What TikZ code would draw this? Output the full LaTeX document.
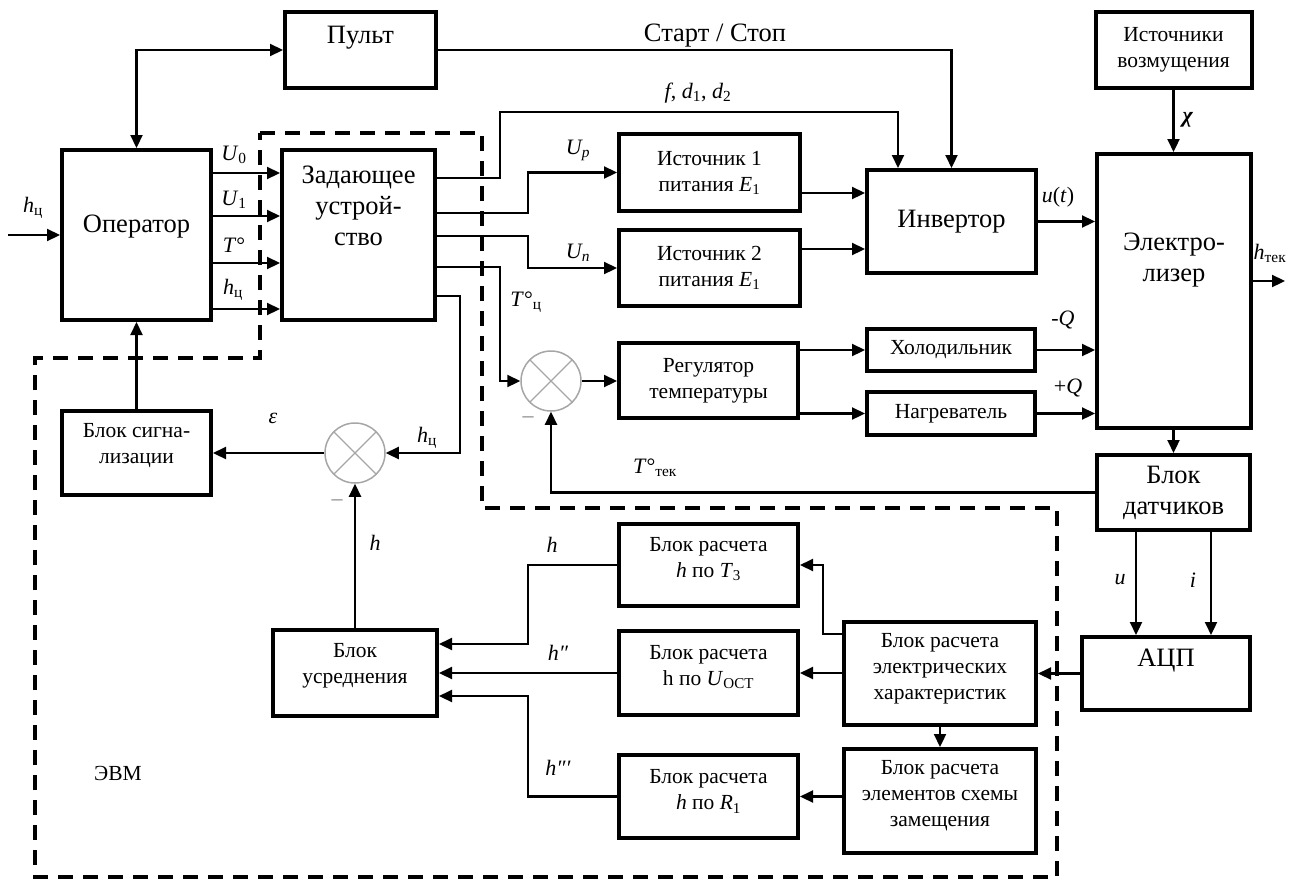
\documentclass[tikz,border=0pt]{standalone}
\usepackage{fontspec}
\setmainfont{Liberation Serif}
\usetikzlibrary{arrows.meta}
\newcommand{\iv}[2]{\textit{#1}\textsubscript{#2}}
\tikzset{
  blok/.style={draw, line width=4pt, inner sep=0pt},
  bigtxt/.style={font=\fontsize{26.5}{31}\selectfont, align=center},
  smltxt/.style={font=\fontsize{21.5}{26}\selectfont, align=center},
  lbl/.style={font=\fontsize{22}{26}\selectfont},
  arr/.style={line width=2.2pt, ->},
  evm/.style={line width=4pt, dash pattern=on 15pt off 10pt},
  summ/.style={circle, draw=gray!70, line width=1.5pt, minimum size=60pt, inner sep=0pt,
    path picture={\draw[gray!70, line width=1.2pt]
      (path picture bounding box.north west) -- (path picture bounding box.south east)
      (path picture bounding box.north east) -- (path picture bounding box.south west);}}
}

\begin{document}
\begin{tikzpicture}[x=1pt, y=-1pt, >={Triangle[length=13pt,width=12pt]}]
\useasboundingbox (0,0) rectangle (1289,881);

% area of the computer
\draw[evm] (260,133) -- (482,133) -- (482,508) -- (1057,508) -- (1057,877) -- (35,877) -- (35,358) -- (260,358) -- cycle;
\node[smltxt] (evm) at (118,773) {ЭВМ};

% blocks
\node[blok, minimum width=151pt, minimum height=76pt, label={[bigtxt, yshift=12pt]center:Пульт}] (pult) at (360.5,50) {};
\node[blok, minimum width=149pt, minimum height=170pt, label={[bigtxt, yshift=8pt]center:Оператор}] (oper) at (136.5,235) {};
\node[blok, minimum width=153pt, minimum height=170pt, label={[bigtxt, yshift=29pt]center:Задающее\\устрой-\\ство}] (zad) at (358.5,235) {};
\node[blok, bigtxt, minimum width=169pt, minimum height=103pt] (inv) at (951.5,221.5) {Инвертор};
\node[blok, smltxt, minimum width=156pt, minimum height=76pt] (istv) at (1173.5,50) {Источники\\возмущения};
\node[blok, minimum width=154pt, minimum height=274pt, label={[bigtxt, yshift=31pt]center:Электро-\\лизер}] (elek) at (1174,291) {};
\node[blok, smltxt, minimum width=181pt, minimum height=77pt] (ist1) at (709.5,172.5) {Источник 1\\питания \iv{E}{1}};
\node[blok, smltxt, minimum width=181pt, minimum height=76pt] (ist2) at (709.5,268) {Источник 2\\питания \iv{E}{1}};
\node[blok, smltxt, minimum width=179pt, minimum height=75pt] (reg) at (708.5,380.5) {Регулятор\\температуры};
\node[blok, smltxt, minimum width=168pt, minimum height=42pt] (hol) at (951,350) {Холодильник};
\node[blok, smltxt, minimum width=168pt, minimum height=43pt] (nag) at (951,413.5) {Нагреватель};
\node[blok, bigtxt, minimum width=153pt, minimum height=75pt] (dat) at (1173.5,492.5) {Блок\\датчиков};
\node[blok, minimum width=168pt, minimum height=73pt, label={[bigtxt, yshift=13pt]center:АЦП}] (adc) at (1166,673.5) {};
\node[blok, minimum width=192pt, minimum height=103pt, label={[smltxt, yshift=5pt]center:Блок расчета\\электрических\\характеристик}] (elh) at (940,673.5) {};
\node[blok, minimum width=192pt, minimum height=104pt, label={[smltxt, yshift=5pt]center:Блок расчета\\элементов схемы\\замещения}] (zam) at (940,801) {};
\node[blok, minimum width=179pt, minimum height=82pt, label={[smltxt, yshift=6pt]center:Блок расчета\\\textit{h} по \iv{T}{3}}] (ht3) at (708.5,565) {};
\node[blok, minimum width=179pt, minimum height=84pt, label={[smltxt, yshift=6pt]center:Блок расчета\\h по \iv{U}{ОСТ}}] (huo) at (708.5,673) {};
\node[blok, minimum width=179pt, minimum height=83pt, label={[smltxt, yshift=5pt]center:Блок расчета\\\textit{h} по \iv{R}{1}}] (hr1) at (708.5,796.5) {};
\node[blok, minimum width=164pt, minimum height=86pt, label={[smltxt, yshift=7pt]center:Блок\\усреднения}] (usr) at (355,673) {};
\node[blok, minimum width=149pt, minimum height=84pt, label={[smltxt, yshift=7pt]center:Блок сигна-\\лизации}] (sgn) at (136.5,453) {};

% comparators
\node[summ] (comp1) at (355,453) {};
\node[summ] (comp2) at (551,381) {};
\node[lbl, text=gray] (min1) at (337,503) {--};
\node[lbl, text=gray] (min2) at (528,420) {--};

\coordinate (hin) at (8,235);
\coordinate (hout) at (1285,281);

% connections
\draw[<->, line width=2.2pt] (oper.north) |- (pult.west);
\draw[arr] (pult.east) -| (inv.north);
\draw[arr] (hin) -- (oper.west);
\foreach \yy in {173,216,263,309}
  \draw[arr] (oper.east |- 0,\yy) -- (zad.west |- 0,\yy);
\draw[arr] (zad.east |- 0,178) -- (500,178) |- (898,112) -- (inv.north -| 898,0);
\draw[arr] (zad.east |- 0,213) -| (528,172.5) -- (ist1.west);
\draw[arr] (zad.east |- 0,236) -| (528,268) -- (ist2.west);
\draw[arr] (zad.east |- 0,267) -| (500,381) -- (comp2.west);
\draw[arr] (zad.east |- 0,296) -| (460,453) -- (comp1.east);
\draw[arr] (ist1.east |- 0,193) -- (inv.west |- 0,193);
\draw[arr] (ist2.east |- 0,249) -- (inv.west |- 0,249);
\draw[arr] (inv.east) -- (elek.west |- inv.east);
\draw[arr] (istv.south) -- (elek.north -| istv.south);
\draw[arr] (elek.east |- hout) -- (hout);
\draw[arr] (comp2.east) -- (reg.west |- comp2.east);
\draw[arr] (reg.east |- hol.west) -- (hol.west);
\draw[arr] (reg.east |- nag.west) -- (nag.west);
\draw[arr] (hol.east) -- (elek.west |- hol.east);
\draw[arr] (nag.east) -- (elek.west |- nag.east);
\draw[arr] (elek.south -| dat.north) -- (dat.north);
\draw[arr] (dat.west) -| (comp2.south);
\draw[arr] (comp1.west) -- (sgn.east |- comp1.west);
\draw[arr] (sgn.north) -- (oper.south);
\draw[arr] (usr.north) -- (comp1.south);
\draw[arr] (dat.south -| 1136,0) -- (adc.north -| 1136,0);
\draw[arr] (dat.south -| 1211,0) -- (adc.north -| 1211,0);
\draw[arr] (adc.west) -- (elh.east |- adc.west);
\draw[arr] (elh.south) -- (zam.north);
\draw[arr] (elh.west |- 0,634) -- (823,634) |- (ht3.east);
\draw[arr] (elh.west |- huo.east) -- (huo.east);
\draw[arr] (zam.west |- hr1.east) -- (hr1.east);
\draw[arr] (ht3.west) -| (528,644) -- (usr.east |- 0,644);
\draw[arr] (huo.west) -- (usr.east |- huo.west);
\draw[arr] (hr1.west) -| (528,696) -- (usr.east |- 0,696);

% signal labels
\node[lbl] (l-hin) at (33,208) {\iv{h}{ц}};
\node[lbl] (l-u0) at (234,155) {\iv{U}{0}};
\node[lbl] (l-u1) at (234,200) {\iv{U}{1}};
\node[lbl] (l-t) at (234,245) {\textit{T}°};
\node[lbl] (l-hc) at (233,290) {\iv{h}{ц}};
\node[bigtxt] (l-start) at (715,36) {Старт / Стоп};
\node[lbl] (l-f) at (698,93) {\textit{f}, \iv{d}{1}, \iv{d}{2}};
\node[lbl] (l-up) at (578,150) {\textit{U\textsubscript{p}}};
\node[lbl] (l-un) at (578,253) {\textit{U\textsubscript{n}}};
\node[lbl] (l-tc) at (526,302) {\textit{T}°\textsubscript{ц}};
\node[lbl] (l-ut) at (1058,197) {\textit{u}(\textit{t})};
\node[lbl] (l-chi) at (1188,120) {\textbf{\textit{χ}}};
\node[lbl] (l-htek) at (1270,253) {\iv{h}{тек}};
\node[lbl] (l-mq) at (1063,320) {-\textit{Q}};
\node[lbl] (l-pq) at (1068,388) {+\textit{Q}};
\node[lbl] (l-ttek) at (655,468) {\textit{T}°\textsubscript{тек}};
\node[lbl] (l-eps) at (273,418) {\textit{ε}};
\node[lbl] (l-hc2) at (427,438) {\iv{h}{ц}};
\node[lbl] (l-h) at (375,543) {\textit{h}};
\node[lbl] (l-h1) at (552,545) {\textit{h}};
\node[lbl] (l-h2) at (558,653) {\textit{h″}};
\node[lbl] (l-h3) at (558,768) {\textit{h″′}};
\node[lbl] (l-u) at (1120,580) {\textit{u}};
\node[lbl] (l-i) at (1193,580) {\textit{i}};
\end{tikzpicture}
\end{document}
